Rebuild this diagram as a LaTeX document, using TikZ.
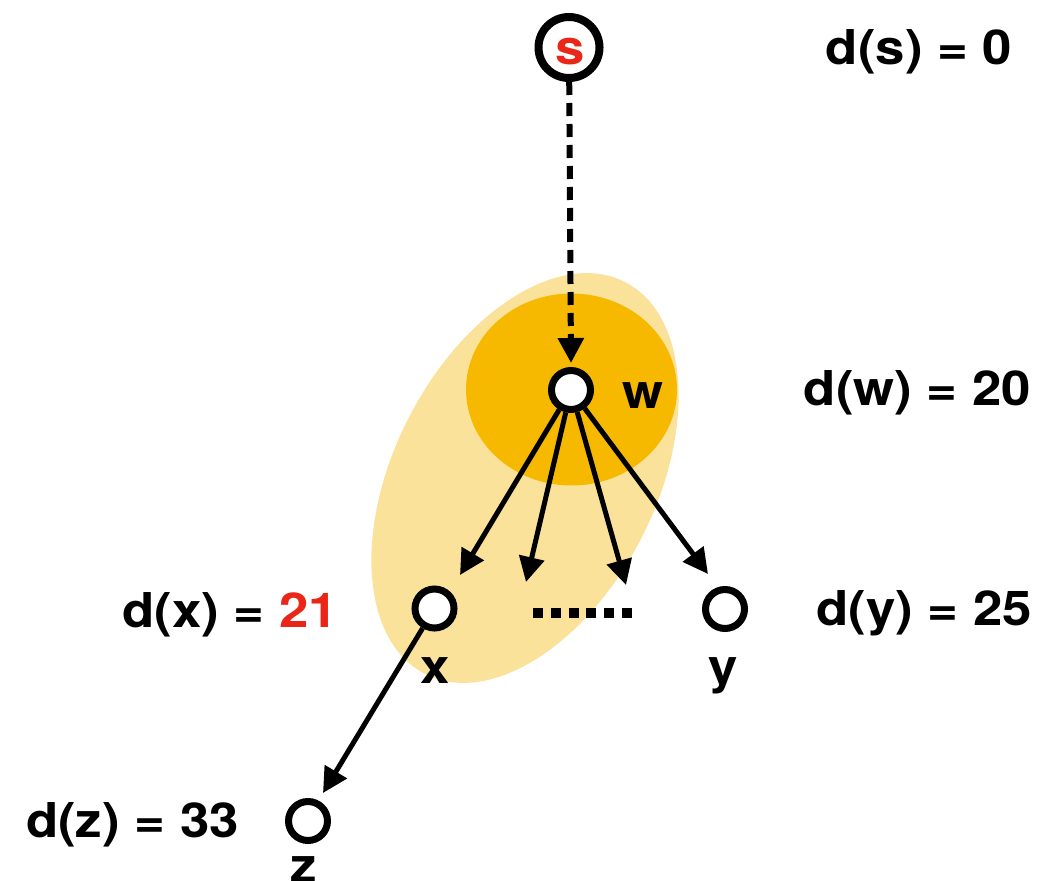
\documentclass[tikz,border=0pt]{standalone}
\usepackage{fontspec}
\setmainfont{TeX Gyre Heros}
\usetikzlibrary{arrows.meta}
\definecolor{hlred}{RGB}{234,38,24}
\definecolor{lightband}{RGB}{251,226,155}
\definecolor{darkband}{RGB}{246,185,0}
\tikzset{
  vtx/.style={circle, draw=black, fill=white, line width=7pt, minimum size=39pt, inner sep=0pt},
  srcvtx/.style={circle, draw=black, fill=white, line width=8pt, minimum size=61pt, inner sep=0pt},
  lbl/.style={font=\fontsize{48}{52}\selectfont\bfseries, inner sep=0pt, anchor=base, xscale=1.1, transform shape},
  edge/.style={line width=5pt, -{Triangle[length=25pt,width=25pt]}},
  dashedge/.style={line width=6pt, dash pattern=on 13pt off 8pt, -{Triangle[length=25pt,width=25pt]}},
}
\begin{document}
\begin{tikzpicture}[x=1pt,y=-1pt]
\useasboundingbox (0,0) rectangle (1059,880);
% highlighted regions
\fill[lightband, shift={(525,478)}, rotate=63] (0,0) ellipse [x radius=220pt, y radius=131pt];
\fill[darkband] (571.5,389.5) ellipse [x radius=105.5pt, y radius=96pt];
% vertices
\node[srcvtx] (s) at (569,47.5) {};
\node[lbl, text=hlred] (slbl) at (570,65) {s};
\node[vtx] (w) at (571,390) {};
\node[vtx] (x) at (434.5,608.5) {};
\node[vtx] (y) at (725,609) {};
\node[vtx] (z) at (308,821) {};
% vertex names
\node[lbl] (wname) at (643,408) {w};
\node[lbl] (xname) at (435,683) {x};
\node[lbl] (yname) at (723,683) {y};
\node[lbl] (zname) at (304,882) {z};
% arrow ends
\coordinate (t1) at (460,575);
\coordinate (t2) at (526,582);
\coordinate (t3) at (626,585);
\coordinate (t4) at (708,574);
\coordinate (tz) at (323,793);
% edges
\draw[dashedge] (s) -- ([yshift=4pt]w.north);
\draw[edge] (w) -- (t1);
\draw[edge] (w) -- (t2);
\draw[edge] (w) -- (t3);
\draw[edge] (w) -- (t4);
\draw[edge] (x) -- (tz);
% dots
\coordinate (d1) at (533,613);
\coordinate (d2) at (632,613);
\draw[line width=10pt, dash pattern=on 10pt off 7.8pt] (d1) -- (d2);
% distance labels
\node[lbl] (ds) at (919,65) {d(s) = 0};
\node[lbl] (dw) at (917.5,405) {d(w) = 20};
\node[lbl] (dx) at (230,627) {d(x) = \textcolor{hlred}{21}};
\node[lbl] (dy) at (924,625) {d(y) = 25};
\node[lbl] (dz) at (132.5,837) {d(z) = 33};
\end{tikzpicture}
\end{document}
